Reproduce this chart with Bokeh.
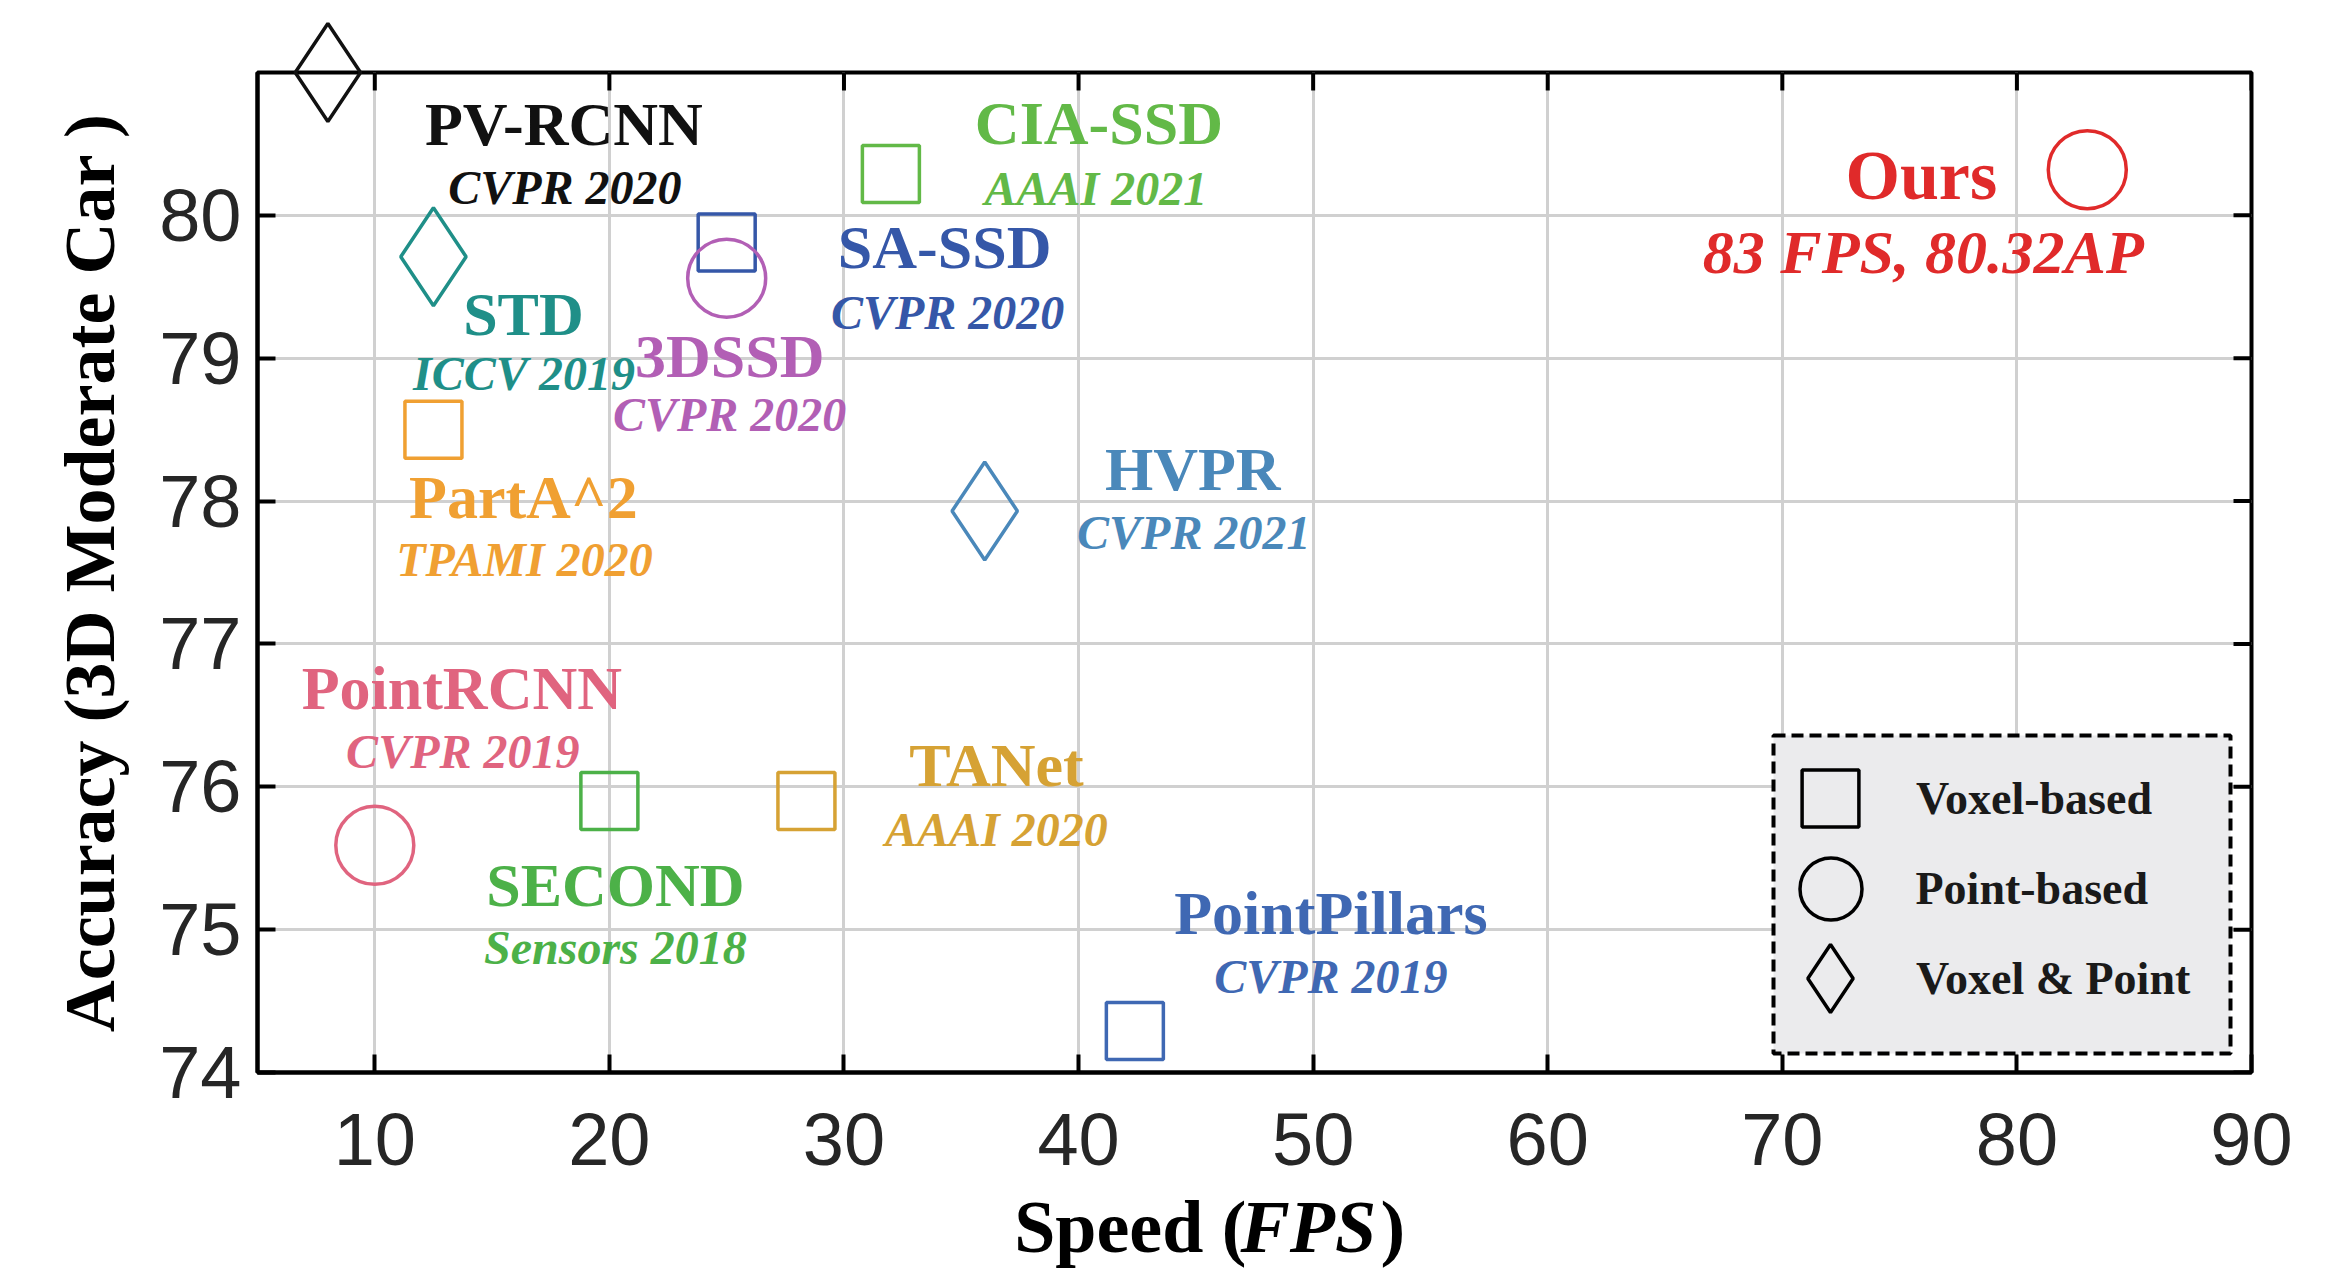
from bokeh.plotting import figure
from bokeh.models import (ColumnDataSource, Range1d, Legend, LegendItem, FixedTicker,
                          BoxAnnotation)
from bokeh.core.properties import value
from bokeh.embed import file_html
from bokeh.resources import INLINE

# ---------------- data ----------------
methods = ["PV-RCNN", "CIA-SSD", "SA-SSD", "STD", "3DSSD", "PartA^2", "HVPR",
           "PointRCNN", "SECOND", "TANet", "PointPillars", "Ours"]
venues = ["CVPR 2020", "AAAI 2021", "CVPR 2020", "ICCV 2019", "CVPR 2020", "TPAMI 2020",
          "CVPR 2021", "CVPR 2019", "Sensors 2018", "AAAI 2020", "CVPR 2019",
          "83 FPS, 80.32AP"]
fps = [8.0, 32.0, 25.0, 12.5, 25.0, 12.5, 36.0, 10.0, 20.0, 28.4, 42.4, 83.0]
ap = [81.0, 80.29, 79.81, 79.71, 79.56, 78.5, 77.93, 75.59, 75.9, 75.9, 74.29, 80.32]
kinds = ["Voxel & Point", "Voxel-based", "Voxel-based", "Voxel & Point", "Point-based",
         "Voxel-based", "Voxel & Point", "Point-based", "Voxel-based", "Voxel-based",
         "Voxel-based", "Point-based"]
legend_labels = ["Voxel-based", "Point-based", "Voxel & Point"]
x_title_parts = ["Speed (", "FPS", ")"]
y_title = "Accuracy (3D Moderate Car )"

x_ticks = [10, 20, 30, 40, 50, 60, 70, 80, 90]
y_ticks = [74, 75, 76, 77, 78, 79, 80]
x_lo, x_hi = 5, 90
y_lo, y_hi = 74, 81

# ---------------- styles / layout ----------------
W, H = 2342, 1268
B_LEFT, B_RIGHT, B_TOP, B_BOTTOM = 257, 91, 72, 196
FRAME_W = W - B_LEFT - B_RIGHT
FRAME_H = H - B_TOP - B_BOTTOM
TICK_LEN = 18
PX_X = (x_hi - x_lo) / FRAME_W      # data units per pixel
PX_Y = (y_hi - y_lo) / FRAME_H

colors = ["#111111", "#62b947", "#3557a8", "#1f8f88", "#b25fb5", "#f0a032", "#4a88ba",
          "#e0647f", "#4cb148", "#d6a234", "#3f68b3", "#e02a2a"]
name_dx = [236, 208, 218, 90, 3, 90, 208, 87, 6, 190, 196, -166]
name_dy = [51, -51, 4, 57, 78, 67, -42, -157, 84, -36, -118, 6]
venue_dx = [237, 205, 221, 91, 3, 91, 209, 88, 6, 190, 196, -164]
venue_dy = [115, 15, 70, 117, 136, 130, 21, -94, 146, 28, -55, 82]
name_size = ["62px"] * 11 + ["70px"]
venue_size = ["48px"] * 11 + ["62px"]

marker_of = {"Voxel-based": "square", "Point-based": "circle", "Voxel & Point": "diamond"}
size_of = {"square": 57, "circle": 78, "diamond": 98}
legend_glyph = {"square": 142, "circle": 155, "diamond": 170}

markers = [marker_of[k] for k in kinds]
sizes = [size_of[m] for m in markers]

src = ColumnDataSource(dict(x=fps, y=ap, name=methods, venue=venues, color=colors,
                            marker=markers, size=sizes, ndx=name_dx, ndy=name_dy,
                            vdx=venue_dx, vdy=venue_dy, nfs=name_size, vfs=venue_size))

p = figure(width=W, height=H, x_range=Range1d(x_lo, x_hi), y_range=Range1d(y_lo, y_hi),
           output_backend="svg", toolbar_location=None,
           min_border_left=B_LEFT, min_border_right=B_RIGHT, min_border_top=B_TOP,
           min_border_bottom=B_BOTTOM)
p.background_fill_color = "white"
p.border_fill_color = "white"
p.outline_line_color = "black"
p.outline_line_width = 4

serif = value("Liberation Serif")

for ax, ticks in ((p.xaxis, x_ticks), (p.yaxis, y_ticks)):
    ax.ticker = FixedTicker(ticks=ticks)
    ax.major_tick_in = TICK_LEN
    ax.major_tick_out = 0
    ax.minor_tick_line_color = None
    ax.major_tick_line_width = 4
    ax.major_tick_line_color = "black"
    ax.axis_line_color = "black"
    ax.axis_line_width = 4
    ax.major_label_text_font = "Liberation Sans"
    ax.major_label_text_font_size = "74px"
    ax.major_label_text_color = "#262626"

p.xaxis.major_label_standoff = 41
p.yaxis.major_label_standoff = 16
p.yaxis.axis_label = y_title
p.yaxis.axis_label_text_font = "Liberation Serif"
p.yaxis.axis_label_text_font_style = "bold"
p.yaxis.axis_label_text_font_size = "72px"
p.yaxis.axis_label_text_color = "black"
p.yaxis.axis_label_standoff = 26

p.xgrid.ticker = FixedTicker(ticks=x_ticks)
p.ygrid.ticker = FixedTicker(ticks=y_ticks)
p.grid.grid_line_color = "#d0d0d0"
p.grid.grid_line_width = 3

# mirror ticks on the top and right edges (inward)
p.segment(x0=x_ticks, y0=[y_hi] * len(x_ticks), x1=x_ticks,
          y1=[y_hi - TICK_LEN * PX_Y] * len(x_ticks), line_color="black", line_width=4)
p.segment(x0=[x_hi] * len(y_ticks), y0=y_ticks, x1=[x_hi - TICK_LEN * PX_X] * len(y_ticks),
          y1=y_ticks, line_color="black", line_width=4)

# markers (not clipped at the frame, like the reference's PV-RCNN diamond)
p.scatter(x="x", y="y", marker="marker", size="size", source=src, fill_color=None,
          line_color="color", line_width=3.5, level="overlay")

# labels
p.text(x="x", y="y", text="name", x_offset="ndx", y_offset="ndy", source=src,
       text_color="color", text_font=serif, text_font_style="bold",
       text_font_size="nfs", text_align="center", text_baseline="middle")
p.text(x="x", y="y", text="venue", x_offset="vdx", y_offset="vdy", source=src,
       text_color="color", text_font=serif, text_font_style="bold italic",
       text_font_size="vfs", text_align="center", text_baseline="middle")

# x axis title, drawn below the frame: "Speed (" bold + "FPS" bold italic + ")" bold
XT_X = 983          # frame px where "FPS" starts
XT_BASE = 154       # baseline, px below the frame bottom
FPS_W = 140
xt_x = x_lo + XT_X * PX_X
xt_src = ColumnDataSource(dict(
    x=[xt_x + 6 * PX_X, xt_x, xt_x + FPS_W * PX_X],
    y=[y_lo - XT_BASE * PX_Y] * 3,
    t=x_title_parts,
    style=["bold", "bold italic", "bold"],
    align=["right", "left", "left"]))
p.text(x="x", y="y", text="t", source=xt_src, text_font=serif,
       text_font_style="style", text_align="align", text_baseline="alphabetic",
       text_font_size="74px", text_color="black", level="overlay")

# legend box (dashed, grey)
LB_LEFT, LB_BOTTOM, LB_W, LB_H = 1516, 19, 457, 318
p.add_layout(BoxAnnotation(left=LB_LEFT, right=LB_LEFT + LB_W, bottom=LB_BOTTOM,
                           top=LB_BOTTOM + LB_H, left_units="screen",
                           right_units="screen", top_units="screen",
                           bottom_units="screen", fill_color="#ebebed", fill_alpha=1.0,
                           line_color="black", line_alpha=1.0, line_width=4,
                           line_dash="12 6", level="annotation"))

# legend entries: one single-item legend per marker type
MARK_CX = 1830 - B_LEFT      # marker centre, frame px
TEXT_X = 1916 - B_LEFT       # label start, frame px
ROW0 = LB_BOTTOM + LB_H - 24 - 45 + 6   # first row centre, frame px (y up)
ROW_PITCH = 90
for i, lab in enumerate(legend_labels):
    m = marker_of[lab]
    g = legend_glyph[m]
    r = p.scatter(x=[float("nan")], y=[float("nan")], marker=m, size=10,
                  fill_color=None, line_color="black", line_width=3.5)
    cy = ROW0 - i * ROW_PITCH
    leg = Legend(items=[LegendItem(label=lab, renderers=[r])],
                 location=(MARK_CX - g / 2, cy - g / 2),
                 glyph_width=g, glyph_height=g, padding=0, margin=0, spacing=0,
                 label_standoff=int(TEXT_X - (MARK_CX + g / 2)), label_width=20,
                 label_text_font="Liberation Serif", label_text_font_style="bold",
                 label_text_font_size="46px", label_text_color="#1a1a1a",
                 background_fill_alpha=0.0, border_line_color=None)
    p.add_layout(leg, "center")

open("out.html", "w").write(file_html(p, INLINE))
